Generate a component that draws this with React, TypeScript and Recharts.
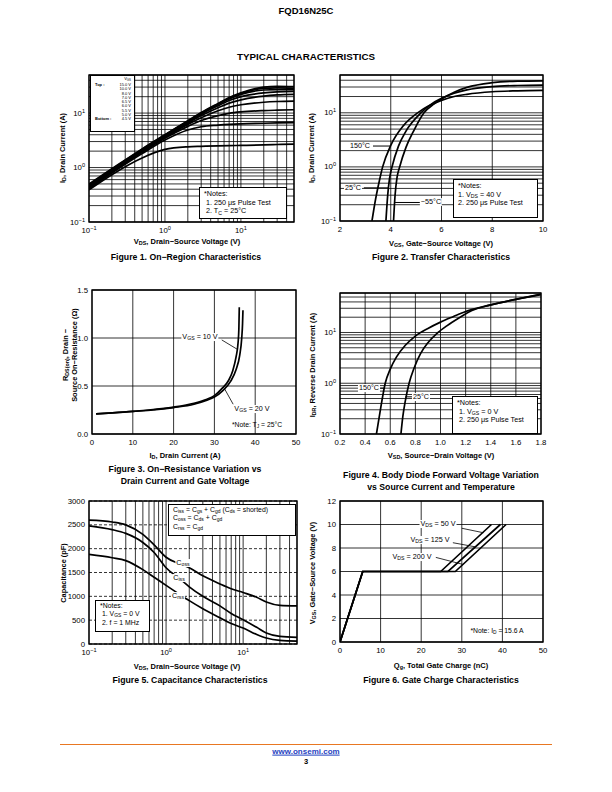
import React from "react";
import { LineChart, Line, XAxis, YAxis, CartesianGrid, ReferenceLine, ReferenceArea } from "recharts";

const FONT = '"Liberation Sans", Arial, Helvetica, sans-serif';

// ---- Figure 1: On-region characteristics (ID vs VDS, log-log)
const f1Vds = [0.1, 0.2, 0.5, 1, 2, 3, 5, 7, 10, 20, 30, 50];
const f1Id150 = [0.5, 0.95, 2.2, 4.0, 7.2, 10.2, 15, 19.2, 23.6, 30, 31, 30.5];
const f1Id100 = [0.48, 0.93, 2.15, 3.95, 7.1, 10.0, 14.7, 18.8, 23, 28.5, 29, 28.5];
const f1Id80 = [0.47, 0.91, 2.1, 3.9, 7.0, 9.8, 14.3, 18.2, 22, 26.5, 27, 27];
const f1Id70 = [0.46, 0.89, 2.05, 3.8, 6.8, 9.5, 13.6, 17, 20, 23.5, 24.5, 25];
const f1Id65 = [0.45, 0.87, 2.0, 3.7, 6.5, 9.0, 12.5, 15.2, 17.5, 20.5, 21.5, 22];
const f1Id60 = [0.44, 0.85, 1.95, 3.6, 6.2, 8.2, 11, 12.8, 14.2, 15.8, 16.3, 16.6];
const f1Id55 = [0.42, 0.82, 1.9, 3.45, 5.7, 7.3, 9.0, 9.9, 10.5, 11.1, 11.3, 11.5];
const f1Id50 = [0.41, 0.79, 1.8, 3.2, 4.9, 5.6, 6.0, 6.2, 6.35, 6.5, 6.6, 6.7];
const f1Id45 = [0.39, 0.74, 1.5, 2.15, 2.4, 2.45, 2.5, 2.52, 2.55, 2.6, 2.65, 2.7];
const f1Legend = ["15.0 V", "10.0 V", "8.0 V", "7.0 V", "6.5 V", "6.0 V", "5.5 V", "5.0 V", "4.5 V"];
const f1Series = [f1Id150, f1Id100, f1Id80, f1Id70, f1Id65, f1Id60, f1Id55, f1Id50, f1Id45];
const f1Rows = f1Vds.map((x, i) => {
  const row: Record<string, number> = { x };
  f1Series.forEach((s, k) => (row["s" + k] = s[i]));
  return row;
});

// ---- Figure 2: Transfer characteristics
const f2Vgs150 = [3.26, 3.4, 3.55, 3.68, 4.0, 4.5, 5.06, 5.5, 6, 6.5, 7, 8, 9, 10];
const f2Id150 = [0.1, 0.25, 0.55, 1.0, 2.5, 5.8, 10, 13.5, 17, 20, 22, 24.5, 25.5, 26];
const f2Vgs25 = [3.81, 3.88, 3.95, 4.05, 4.3, 4.6, 5.19, 5.6, 6, 6.5, 7, 8, 9, 10];
const f2Id25 = [0.1, 0.3, 0.6, 1.0, 2.4, 4.6, 10, 14.5, 18.5, 23, 26.5, 30.5, 32, 32.5];
const f2VgsM55 = [4.11, 4.17, 4.25, 4.35, 4.6, 4.9, 5.31, 5.7, 6, 6.5, 7, 8, 9, 10];
const f2IdM55 = [0.1, 0.3, 0.65, 1.0, 2.3, 4.6, 10, 14.5, 18, 24, 29.5, 36, 38.5, 39];

// ---- Figure 3: On-resistance vs drain current
const f3Id10 = [1, 5, 10, 15, 20, 25, 28, 30, 32, 33.5, 34.5, 35.3, 35.8, 36, 36.1];
const f3R10 = [0.21, 0.22, 0.235, 0.255, 0.28, 0.32, 0.36, 0.4, 0.48, 0.56, 0.66, 0.8, 0.95, 1.1, 1.32];
const f3Id20 = [1, 5, 10, 15, 20, 25, 28, 30, 32, 34, 35.3, 36.2, 36.7, 36.9, 37];
const f3R20 = [0.21, 0.22, 0.235, 0.25, 0.275, 0.31, 0.35, 0.385, 0.45, 0.55, 0.67, 0.82, 1.0, 1.15, 1.29];

// ---- Figure 4: Body diode forward voltage
const f4Vsd150 = [0.49, 0.51, 0.53, 0.56, 0.6, 0.65, 0.72, 0.8, 0.9, 1.0, 1.1, 1.2, 1.4, 1.6, 1.8];
const f4Id150 = [0.1, 0.2, 0.4, 1.0, 1.9, 3.3, 5.6, 8.5, 12, 16, 20.5, 26, 35, 45, 56];
const f4Vsd25 = [0.685, 0.7, 0.72, 0.75, 0.79, 0.84, 0.9, 0.97, 1.05, 1.15, 1.25, 1.4, 1.6, 1.8];
const f4Id25 = [0.1, 0.22, 0.45, 1.0, 2.0, 3.8, 6.3, 9.5, 13.5, 19.5, 27, 35, 45, 57];

// ---- Figure 5: Capacitance
const f5Vds = [0.1, 0.2, 0.3, 0.5, 0.7, 1, 1.5, 2, 3, 5, 7, 10, 15, 20, 30, 50];
const f5Top = [2600, 2560, 2500, 2300, 2080, 1820, 1680, 1600, 1430, 1260, 1160, 1080, 980, 880, 810, 800];
const f5Mid = [2480, 2400, 2320, 2130, 1920, 1600, 1370, 1200, 1000, 800, 640, 510, 350, 230, 160, 140];
const f5Bot = [1880, 1810, 1750, 1560, 1400, 1230, 1040, 910, 740, 550, 430, 335, 200, 125, 75, 60];
const f5Rows = f5Vds.map((x, i) => ({ x, top: f5Top[i], mid: f5Mid[i], bot: f5Bot[i] }));

// ---- Figure 6: Gate charge
const f6Qg50 = [0, 5.6, 24.8, 37.3];
const f6Qg125 = [0, 5.6, 26.6, 39.5];
const f6Qg200 = [0, 5.6, 28.4, 40.9];
const f6Vgs = [0, 6, 6, 10];

// ticks
const logTicks50 = [0.1, 0.2, 0.3, 0.4, 0.5, 0.6, 0.7, 0.8, 0.9, 1, 2, 3, 4, 5, 6, 7, 8, 9, 10, 20, 30, 40, 50];
const logTicks60 = [0.1, 0.2, 0.3, 0.4, 0.5, 0.6, 0.7, 0.8, 0.9, 1, 2, 3, 4, 5, 6, 7, 8, 9, 10, 20, 30, 40, 50, 60];
const f2XTicks = [2, 4, 6, 8, 10];
const f3XTicks = [0, 10, 20, 30, 40, 50];
const f3YTicks = [0, 0.5, 1.0, 1.5];
const f4XTicks = [0.2, 0.4, 0.6, 0.8, 1.0, 1.2, 1.4, 1.6, 1.8];
const f5YTicks = [0, 500, 1000, 1500, 2000, 2500, 3000];
const f6XTicks = [0, 10, 20, 30, 40, 50];
const f6YTicks = [0, 2, 4, 6, 8, 10, 12];

const pts = (xs: number[], ys: number[]) => xs.map((x, i) => ({ x, y: ys[i] }));

type Fmt = "pow" | ((v: number) => string);
interface AxisSpec {
  domain: [number, number];
  ticks: number[];
  log?: boolean;
  fmt: Fmt;
}

const isDecade = (v: number) => {
  const e = Math.log10(v);
  return Math.abs(e - Math.round(e)) < 1e-6;
};

function tickLabel(v: number, fmt: Fmt, x: number, y: number, anchor: string) {
  if (fmt === "pow") {
    if (!isDecade(v)) return <g />;
    const e = Math.round(Math.log10(v));
    return (
      <text x={x} y={y} textAnchor={anchor} fontSize={7.8} fontFamily={FONT} fill="#000">
        <tspan>10</tspan>
        <tspan dy={-3} fontSize={5.6}>{e < 0 ? "\u2212" + -e : String(e)}</tspan>
      </text>
    );
  }
  return (
    <text x={x} y={y} textAnchor={anchor} fontSize={7.8} fontFamily={FONT} fill="#000">
      {fmt(v)}
    </text>
  );
}

function Panel(props: {
  left: number;
  top: number;
  w: number;
  h: number;
  x: AxisSpec;
  y: AxisSpec;
  data?: any[];
  dashH?: boolean;
  children?: React.ReactNode;
}) {
  const { left, top, w, h, x, y, data, dashH, children } = props;
  const YW = 34, MT = 6, MR = 8, XH = 20;
  return (
    <div style={{ position: "absolute", left: left - YW, top: top - MT }}>
      <LineChart
        width={w + YW + MR}
        height={h + MT + XH}
        data={data}
        margin={{ top: MT, right: MR, bottom: 0, left: 0 }}
      >
        {dashH && <CartesianGrid horizontal={false} stroke="#000" strokeWidth={0.8} />}
        {dashH && <CartesianGrid vertical={false} stroke="#000" strokeWidth={0.8} strokeDasharray="3 2" />}
        {!dashH && <CartesianGrid stroke="#000" strokeWidth={0.8} />}
        <XAxis
          type="number"
          dataKey="x"
          scale={x.log ? "log" : "linear"}
          domain={x.domain}
          ticks={x.ticks}
          interval={0}
          allowDataOverflow
          height={XH}
          tickLine={false}
          axisLine={false}
          tickSize={2}
          tickMargin={2}
          tick={(p: any) => tickLabel(p.payload.value, x.fmt, p.x, p.y + 7, "middle")}
        />
        <YAxis
          type="number"
          scale={y.log ? "log" : "linear"}
          domain={y.domain}
          ticks={y.ticks}
          interval={0}
          allowDataOverflow
          width={YW}
          tickLine={false}
          axisLine={false}
          tickSize={2}
          tickMargin={2}
          tick={(p: any) => tickLabel(p.payload.value, y.fmt, p.x, p.y + 2.5, "end")}
        />
        <ReferenceArea
          x1={x.domain[0]}
          x2={x.domain[1]}
          y1={y.domain[0]}
          y2={y.domain[1]}
          fill="none"
          stroke="#000"
          strokeWidth={1.3}
          ifOverflow="visible"
        />
        {children}
      </LineChart>
    </div>
  );
}

function T(props: { x: number; y: number; size?: number; bold?: boolean; anchor?: "start" | "middle" | "end"; bg?: string; children: React.ReactNode }) {
  const { x, y, size = 7, bold, anchor = "middle", bg, children } = props;
  const tx = anchor === "middle" ? "-50%" : anchor === "end" ? "-100%" : "0";
  return (
    <div
      style={{
        position: "absolute",
        left: x,
        top: y,
        transform: `translate(${tx}, -50%)`,
        fontSize: size,
        fontWeight: bold ? 700 : 400,
        whiteSpace: "nowrap",
        lineHeight: 1.1,
        background: bg,
        padding: bg ? "0 1px" : 0,
      }}
    >
      {children}
    </div>
  );
}

function VT(props: { x: number; y: number; size?: number; children: React.ReactNode }) {
  const { x, y, size = 7.4, children } = props;
  return (
    <div
      style={{
        position: "absolute",
        left: x,
        top: y,
        transform: "translate(-50%, -50%) rotate(-90deg)",
        fontSize: size,
        fontWeight: 700,
        whiteSpace: "nowrap",
        lineHeight: 1.1,
      }}
    >
      {children}
    </div>
  );
}

const Sub = ({ c }: { c: string }) => (
  <span style={{ fontSize: "72%", position: "relative", top: "0.25em" }}>{c}</span>
);

function Box(props: { x: number; y: number; w: number; h: number; children?: React.ReactNode; size?: number; lh?: number }) {
  const { x, y, w, h, children, size = 7.2, lh = 1.2 } = props;
  return (
    <div
      style={{
        position: "absolute",
        left: x,
        top: y,
        width: w,
        height: h,
        boxSizing: "border-box",
        border: "1px solid #000",
        background: "#fff",
        fontSize: size,
        lineHeight: lh,
        padding: "2px 4px",
        whiteSpace: "nowrap",
      }}
    >
      {children}
    </div>
  );
}

const curve = { stroke: "#000", strokeWidth: 1.7, dot: false, isAnimationActive: false } as const;
const f1 = (v: number) => v.toFixed(1);
const fInt = (v: number) => String(v);

const CAP = 8.7;
const XL = 7.5;

export default function App() {
  return (
    <div
      style={{
        position: "absolute",
        left: 0,
        top: 0,
        width: 612,
        height: 792,
        background: "#fff",
        color: "#000",
        fontFamily: FONT,
        overflow: "hidden",
      }}
    >
      <T x={306} y={11} size={9.5} bold>FQD16N25C</T>
      <T x={306} y={57} size={9.8} bold>TYPICAL CHARACTERISTICS</T>

      {/* Figure 1 */}
      <Panel
        left={89}
        top={75}
        w={205}
        h={147}
        x={{ domain: [0.1, 50], ticks: logTicks50, log: true, fmt: "pow" }}
        y={{ domain: [0.1, 50], ticks: logTicks50, log: true, fmt: "pow" }}
        data={f1Rows}
      >
        {f1Series.map((_, k) => (
          <Line key={k} type="monotone" dataKey={"s" + k} {...curve} />
        ))}
      </Panel>
      <Box x={90} y={75} w={45} h={57} />
      <T x={131} y={79} size={4} anchor="end">V<Sub c="GS" /></T>
      <T x={95} y={85} size={4} anchor="start" bold>Top :</T>
      <T x={95} y={119} size={4} anchor="start" bold>Bottom :</T>
      {f1Legend.map((s, i) => (
        <T key={s} x={131} y={85 + i * 4.25} size={4} anchor="end">{s}</T>
      ))}
      <Box x={199} y={187} w={88} h={32}>
        *Notes:
        <br />&nbsp;1. 250 μs Pulse Test
        <br />&nbsp;2. T<Sub c="C" /> = 25°C
      </Box>
      <VT x={63} y={148}>I<Sub c="D" />, Drain Current (A)</VT>
      <T x={187} y={242} size={XL} bold>V<Sub c="DS" />, Drain−Source Voltage (V)</T>
      <T x={186} y={258} size={CAP} bold>Figure 1. On−Region Characteristics</T>

      {/* Figure 2 */}
      <Panel
        left={340}
        top={75}
        w={203}
        h={146}
        x={{ domain: [2, 10], ticks: f2XTicks, fmt: fInt }}
        y={{ domain: [0.1, 50], ticks: logTicks50, log: true, fmt: "pow" }}
      >
        <Line data={pts(f2Vgs150, f2Id150)} type="monotone" dataKey="y" {...curve} />
        <Line data={pts(f2Vgs25, f2Id25)} type="monotone" dataKey="y" {...curve} />
        <Line data={pts(f2VgsM55, f2IdM55)} type="monotone" dataKey="y" {...curve} />
        <ReferenceLine segment={[{ x: 3.3, y: 2.43 }, { x: 3.97, y: 2.43 }]} stroke="#000" strokeWidth={1} />
        <ReferenceLine segment={[{ x: 2.94, y: 0.41 }, { x: 3.9, y: 0.41 }]} stroke="#000" strokeWidth={1} />
        <ReferenceLine segment={[{ x: 4.17, y: 0.22 }, { x: 5.15, y: 0.22 }]} stroke="#000" strokeWidth={1} />
      </Panel>
      <T x={360} y={146} size={7.2} bg="#fff">150°C</T>
      <T x={353} y={188} size={7.2} bg="#fff">25°C</T>
      <T x={431} y={202} size={7.2} bg="#fff">−55°C</T>
      <Box x={453} y={179} w={85} h={39}>
        *Notes:
        <br />1. V<Sub c="DS" /> = 40 V
        <br />2. 250 μs Pulse Test
      </Box>
      <VT x={312} y={148}>I<Sub c="D" />, Drain Current (A)</VT>
      <T x={441} y={244} size={XL} bold>V<Sub c="GS" />, Gate−Source Voltage (V)</T>
      <T x={441} y={258} size={CAP} bold>Figure 2. Transfer Characteristics</T>

      {/* Figure 3 */}
      <Panel
        left={92}
        top={290}
        w={204}
        h={144}
        x={{ domain: [0, 50], ticks: f3XTicks, fmt: fInt }}
        y={{ domain: [0, 1.5], ticks: f3YTicks, fmt: f1 }}
      >
        <Line data={pts(f3Id10, f3R10)} type="monotone" dataKey="y" {...curve} />
        <Line data={pts(f3Id20, f3R20)} type="monotone" dataKey="y" {...curve} />
        <ReferenceLine segment={[{ x: 31.8, y: 0.98 }, { x: 35.7, y: 0.88 }]} stroke="#000" strokeWidth={0.8} />
        <ReferenceLine segment={[{ x: 32.5, y: 0.47 }, { x: 34.6, y: 0.31 }]} stroke="#000" strokeWidth={0.8} />
      </Panel>
      <T x={200} y={337} size={7.2} bg="#fff">V<Sub c="GS" /> = 10 V</T>
      <T x={252} y={409} size={7.2} bg="#fff">V<Sub c="GS" /> = 20 V</T>
      <T x={257} y={425} size={6.8}>*Note: T<Sub c="J" /> = 25°C</T>
      <VT x={66} y={355}>R<Sub c="DS(on)" />, Drain −</VT>
      <VT x={75} y={355}>Source On−Resistance (Ω)</VT>
      <T x={185} y={456} size={XL} bold>I<Sub c="D" />, Drain Current (A)</T>
      <T x={185} y={470} size={CAP} bold>Figure 3. On−Resistance Variation vs</T>
      <T x={185} y={482} size={CAP} bold>Drain Current and Gate Voltage</T>

      {/* Figure 4 */}
      <Panel
        left={340}
        top={293}
        w={201}
        h={141}
        x={{ domain: [0.2, 1.8], ticks: f4XTicks, fmt: f1 }}
        y={{ domain: [0.1, 60], ticks: logTicks60, log: true, fmt: "pow" }}
      >
        <Line data={pts(f4Vsd150, f4Id150)} type="monotone" dataKey="y" {...curve} />
        <Line data={pts(f4Vsd25, f4Id25)} type="monotone" dataKey="y" {...curve} />
        <ReferenceLine segment={[{ x: 0.52, y: 0.8 }, { x: 0.555, y: 0.8 }]} stroke="#000" strokeWidth={1} />
        <ReferenceLine segment={[{ x: 0.72, y: 0.54 }, { x: 0.78, y: 0.54 }]} stroke="#000" strokeWidth={1} />
      </Panel>
      <T x={369} y={388} size={7.2} bg="#fff">150°C</T>
      <T x={421} y={397} size={7.2} bg="#fff">25°C</T>
      <Box x={452} y={396} w={86} h={38}>
        *Notes:
        <br />&nbsp;1. V<Sub c="GS" /> = 0 V
        <br />&nbsp;2. 250 μs Pulse Test
      </Box>
      <VT x={313} y={365}>I<Sub c="DR" />, Reverse Drain Current (A)</VT>
      <T x={441} y={456} size={XL} bold>V<Sub c="SD" />, Source−Drain Voltage (V)</T>
      <T x={441} y={476} size={CAP} bold>Figure 4. Body Diode Forward Voltage Variation</T>
      <T x={441} y={488} size={CAP} bold>vs Source Current and Temperature</T>

      {/* Figure 5 */}
      <Panel
        left={89}
        top={501}
        w={208}
        h={143}
        x={{ domain: [0.1, 50], ticks: logTicks50, log: true, fmt: "pow" }}
        y={{ domain: [0, 3000], ticks: f5YTicks, fmt: fInt }}
        data={f5Rows}
        dashH
      >
        <Line type="monotone" dataKey="top" {...curve} />
        <Line type="monotone" dataKey="mid" {...curve} />
        <Line type="monotone" dataKey="bot" {...curve} />
      </Panel>
      <Box x={168} y={504} w={128} h={32} size={6.9} lh={1.25}>
        <div style={{ marginTop: -1.5 }}>
          C<Sub c="iss" /> = C<Sub c="gs" /> + C<Sub c="gd" /> (C<Sub c="ds" /> = shorted)
          <br />C<Sub c="oss" /> = C<Sub c="ds" /> + C<Sub c="gd" />
          <br />C<Sub c="rss" /> = C<Sub c="gd" />
        </div>
      </Box>
      <T x={183} y={563} size={7.2} bg="#fff">C<Sub c="oss" /></T>
      <T x={179} y={578} size={7.2} bg="#fff">C<Sub c="iss" /></T>
      <T x={178} y={596} size={7.2} bg="#fff">C<Sub c="rss" /></T>
      <Box x={95} y={600} w={55} h={32} size={6.9} lh={1.25}>
        <div style={{ marginTop: -1.5 }}>
          *Notes:
          <br />&nbsp;1. V<Sub c="GS" /> = 0 V
          <br />&nbsp;2. f = 1 MHz
        </div>
      </Box>
      <VT x={64} y={573}>Capacitance (pF)</VT>
      <T x={187} y={667} size={XL} bold>V<Sub c="DS" />, Drain−Source Voltage (V)</T>
      <T x={190} y={681} size={CAP} bold>Figure 5. Capacitance Characteristics</T>

      {/* Figure 6 */}
      <Panel
        left={340}
        top={501}
        w={203}
        h={141}
        x={{ domain: [0, 50], ticks: f6XTicks, fmt: fInt }}
        y={{ domain: [0, 12], ticks: f6YTicks, fmt: fInt }}
      >
        <Line data={pts(f6Qg50, f6Vgs)} type="linear" dataKey="y" {...curve} />
        <Line data={pts(f6Qg125, f6Vgs)} type="linear" dataKey="y" {...curve} />
        <Line data={pts(f6Qg200, f6Vgs)} type="linear" dataKey="y" {...curve} />
        <ReferenceLine segment={[{ x: 30, y: 9.68 }, { x: 35.3, y: 9.3 }]} stroke="#000" strokeWidth={0.8} />
        <ReferenceLine segment={[{ x: 27.8, y: 8.45 }, { x: 33.3, y: 8.1 }]} stroke="#000" strokeWidth={0.8} />
        <ReferenceLine segment={[{ x: 23.6, y: 7.2 }, { x: 30.3, y: 6.6 }]} stroke="#000" strokeWidth={0.8} />
      </Panel>
      <T x={438} y={524} size={7.2} bg="#fff">V<Sub c="DS" /> = 50 V</T>
      <T x={430} y={540} size={7.2} bg="#fff">V<Sub c="DS" /> = 125 V</T>
      <T x={412} y={557} size={7.2} bg="#fff">V<Sub c="DS" /> = 200 V</T>
      <T x={497} y={631} size={6.8}>*Note: I<Sub c="D" /> = 15.6 A</T>
      <VT x={313} y={573}>V<Sub c="GS" />, Gate−Source Voltage (V)</VT>
      <T x={441} y={666} size={XL} bold>Q<Sub c="g" />, Total Gate Charge (nC)</T>
      <T x={441} y={681} size={CAP} bold>Figure 6. Gate Charge Characteristics</T>

      {/* footer */}
      <div style={{ position: "absolute", left: 60, top: 744, width: 492, height: 1, background: "#e87722" }} />
      <T x={306} y={752} size={8} bold>
        <span style={{ color: "#1f3fbf", textDecoration: "underline" }}>www.onsemi.com</span>
      </T>
      <T x={306} y={762} size={7.5} bold>3</T>
    </div>
  );
}
